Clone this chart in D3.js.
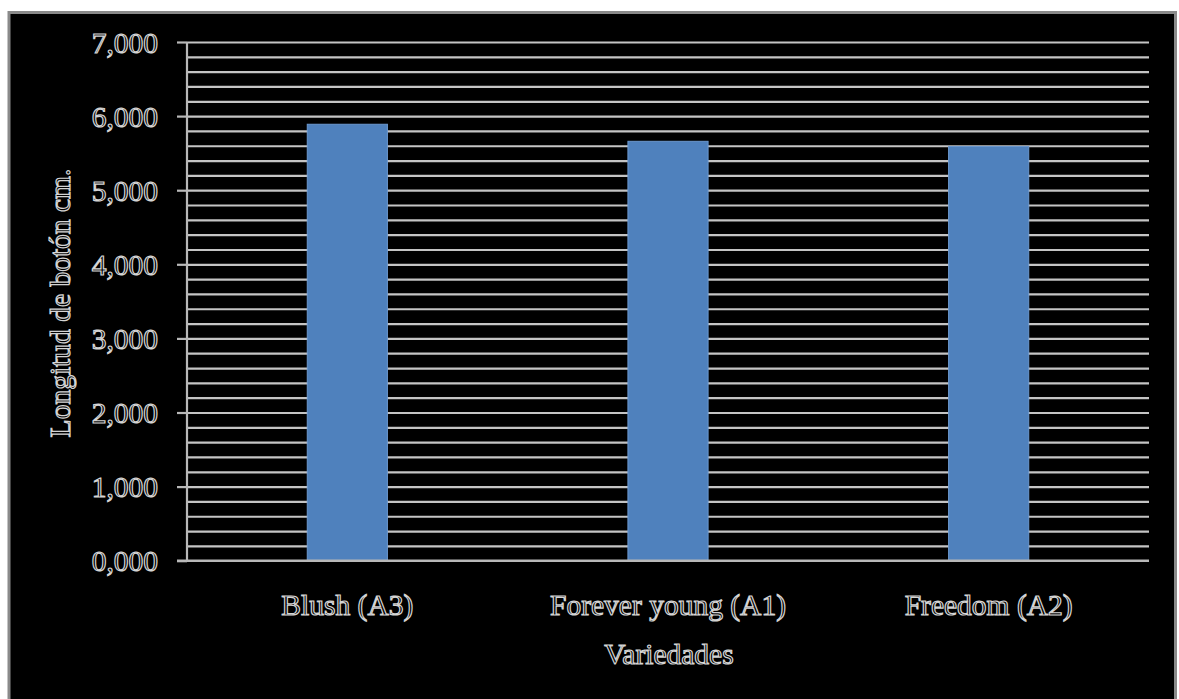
<!DOCTYPE html>
<html><head><meta charset="utf-8">
<script src="https://cdn.jsdelivr.net/npm/d3@7"></script>
<style>
html,body{margin:0;padding:0;background:#fff;overflow:hidden;}
text{font-family:"Liberation Serif","Times New Roman",serif;}
</style></head>
<body>
<svg id="c" width="1179" height="699"></svg>
<script>
const categories = ["Blush (A3)", "Forever young (A1)", "Freedom (A2)"];
const values = [5.89, 5.66, 5.59];
const yTicks = [0, 1, 2, 3, 4, 5, 6, 7];
const minorTicks = d3.range(0, 7.0001, 0.2);
const yTitle = "Longitud de botón cm.";
const xTitle = "Variedades";

const svg = d3.select("#c");
// frame
svg.append("rect").attr("x", 9).attr("y", 12.5).attr("width", 1166.5).attr("height", 700)
  .attr("fill", "#000").attr("stroke", "#8a8a8a").attr("stroke-width", 3);

const m = {l: 187, r: 1149, t: 42, b: 560.7};
const y = d3.scaleLinear().domain([0, 7]).range([m.b, m.t]);
const x = d3.scaleBand().domain(categories).range([m.l, m.r]).paddingInner(0.75).paddingOuter(0.375);

const textStyle = s => s.attr("fill", "#000").attr("stroke", "#d4d4d4").attr("stroke-width", 1.2)
  .attr("font-size", 29.5).attr("font-family", "Liberation Serif, serif");

// gridlines
const grid = svg.append("g").attr("transform", `translate(${m.l},0)`)
  .call(d3.axisLeft(y).tickValues(minorTicks.filter(v => v > 0.001)).tickSize(-(m.r - m.l)).tickFormat(""));
grid.select(".domain").remove();
grid.selectAll("line").attr("stroke", "#c4c4c4").attr("stroke-width", 2.2);

// bars
svg.append("g").selectAll("rect").data(values).join("rect")
  .attr("x", (d, i) => x(categories[i]))
  .attr("y", d => y(d))
  .attr("width", x.bandwidth())
  .attr("height", d => y(0) - y(d))
  .attr("fill", "#4f81bd").attr("stroke", "#6b98cf").attr("stroke-width", 1);

// y axis
const ya = svg.append("g").attr("transform", `translate(${m.l},0)`)
  .call(d3.axisLeft(y).tickValues(yTicks).tickSize(10).tickPadding(19)
    .tickFormat(d => d3.format(".3f")(d).replace(".", ",")));
ya.select(".domain").attr("stroke", "#b8b8b8").attr("stroke-width", 2.2).attr("d", `M0,${m.b}V${m.t}`);
ya.selectAll(".tick line").attr("stroke", "#b8b8b8").attr("stroke-width", 2.2);
ya.selectAll(".tick text").call(textStyle).attr("dy", "0.34em");

// x axis baseline
const xa = svg.append("g").attr("transform", `translate(0,${m.b})`)
  .call(d3.axisBottom(x).tickSize(0).tickPadding(54));
xa.select(".domain").attr("stroke", "#b8b8b8").attr("stroke-width", 2.4).attr("d", `M${m.l - 10},0H${m.r}`);
xa.selectAll(".tick text").call(textStyle).attr("dy", 0);

// titles
svg.append("text").text(xTitle).attr("x", 669).attr("y", 664).attr("text-anchor", "middle").call(textStyle);
svg.append("text").text(yTitle).attr("transform", "translate(70,303) rotate(-90)")
  .attr("text-anchor", "middle").call(textStyle);
</script>
</body></html>
